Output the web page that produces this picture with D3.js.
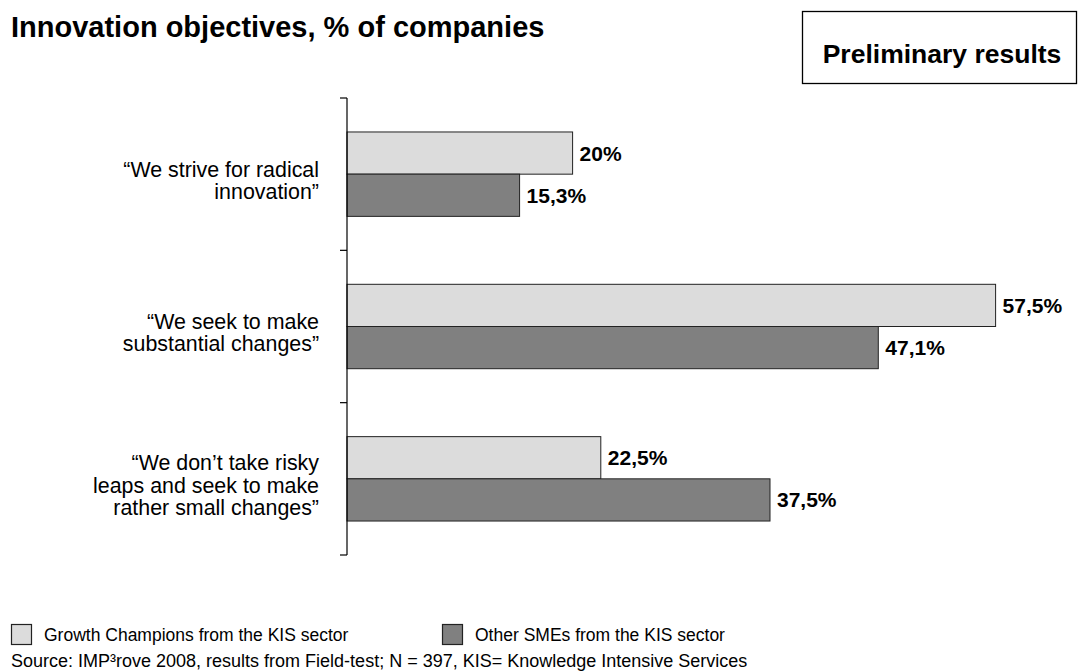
<!DOCTYPE html>
<html>
<head>
<meta charset="utf-8">
<script src="https://cdn.jsdelivr.net/npm/d3@7"></script>
<style>
  html, body { margin: 0; padding: 0; background: #fff; }
  svg { display: block; font-family: "Liberation Sans", Arial, sans-serif; }
</style>
</head>
<body>
<svg id="chart" width="1081" height="671"></svg>
<script>
// ---- data ----
const categories = [
  ["\u201CWe strive for radical", "innovation\u201D"],
  ["\u201CWe seek to make", "substantial changes\u201D"],
  ["\u201CWe don\u2019t take risky", "leaps and seek to make", "rather small changes\u201D"]
];
const seriesNames = ["Growth Champions from the KIS sector", "Other SMEs from the KIS sector"];
const growthChampions = [20, 57.5, 22.5];
const otherSMEs = [15.3, 47.1, 37.5];
const valueLabelsGrowth = ["20%", "57,5%", "22,5%"];
const valueLabelsOther = ["15,3%", "47,1%", "37,5%"];
const chartTitle = "Innovation objectives, % of companies";
const badge = "Preliminary results";
const sourceNote = "Source: IMP\u00B3rove 2008, results from Field-test; N = 397, KIS= Knowledge Intensive Services";

const colors = ["#dcdcdc", "#808080"];

const svg = d3.select("#chart");
const catIds = categories.map((c, i) => "c" + i);

const x = d3.scaleLinear().domain([0, 60]).range([347, 1023.8]);
const y0 = d3.scaleBand().domain(catIds).range([98, 555]).paddingInner(0.446).paddingOuter(0.223);
const y1 = d3.scaleBand().domain([0, 1]).range([0, y0.bandwidth()]);

// title
svg.append("text").attr("x", 11).attr("y", 37)
  .attr("font-size", 29).attr("font-weight", "bold").attr("fill", "#000").text(chartTitle);

// badge box
svg.append("rect").attr("x", 802.5).attr("y", 11.5).attr("width", 274).attr("height", 72)
  .attr("fill", "#fff").attr("stroke", "#000").attr("stroke-width", 1.3);
svg.append("text").attr("x", 942).attr("y", 63).attr("text-anchor", "middle")
  .attr("font-size", 26.5).attr("font-weight", "bold").attr("fill", "#000").text(badge);

// bars
const rows = catIds.map((id, i) => ({ id, vals: [growthChampions[i], otherSMEs[i]], labs: [valueLabelsGrowth[i], valueLabelsOther[i]] }));
const g = svg.selectAll("g.cat").data(rows).join("g").attr("class", "cat")
  .attr("transform", d => `translate(0,${y0(d.id)})`);
g.selectAll("rect").data(d => d.vals.map((v, k) => ({ v, k })))
  .join("rect")
  .attr("x", x(0)).attr("y", d => y1(d.k))
  .attr("width", d => x(d.v) - x(0)).attr("height", y1.bandwidth())
  .attr("fill", d => colors[d.k]).attr("stroke", "#222").attr("stroke-width", 1);
g.selectAll("text.val").data(d => d.vals.map((v, k) => ({ v, k, lab: d.labs[k] })))
  .join("text").attr("class", "val")
  .attr("x", d => x(d.v) + 7).attr("y", d => y1(d.k) + y1.bandwidth() / 2)
  .attr("dy", "0.36em").attr("font-size", 21).attr("font-weight", "bold").attr("fill", "#000")
  .text(d => d.lab);

// category axis
const axisX = x(0);
const step = y0.step();
const axisTop = y0.range()[0];
const tickYs = d3.range(categories.length + 1).map(i => axisTop + i * step);
svg.append("line").attr("x1", axisX).attr("x2", axisX).attr("y1", tickYs[0]).attr("y2", tickYs[tickYs.length - 1])
  .attr("stroke", "#000").attr("stroke-width", 1.2);
svg.selectAll("line.tick").data(tickYs).join("line").attr("class", "tick")
  .attr("x1", axisX - 7).attr("x2", axisX).attr("y1", d => d).attr("y2", d => d)
  .attr("stroke", "#000").attr("stroke-width", 1.2);

// category labels
const lh = 22.3;
categories.forEach((lines, i) => {
  const cy = y0(catIds[i]) + y0.bandwidth() / 2 + 6;
  const t = svg.append("text").attr("text-anchor", "end").attr("font-size", 21.4).attr("fill", "#000");
  lines.forEach((ln, j) => {
    t.append("tspan").attr("x", 319)
      .attr("y", cy + (j - (lines.length - 1) / 2) * lh)
      .attr("dy", "0.36em").text(ln);
  });
});

// legend
const legX = [11, 442];
seriesNames.forEach((name, k) => {
  svg.append("rect").attr("x", legX[k] + 0.5).attr("y", 624.5).attr("width", 20).attr("height", 20)
    .attr("fill", colors[k]).attr("stroke", "#222").attr("stroke-width", 1.2);
  svg.append("text").attr("x", legX[k] + 33).attr("y", 641).attr("font-size", 17.5).attr("fill", "#000").text(name);
});

// source
svg.append("text").attr("x", 11).attr("y", 667).attr("font-size", 18).attr("fill", "#000").text(sourceNote);
</script>
</body>
</html>
